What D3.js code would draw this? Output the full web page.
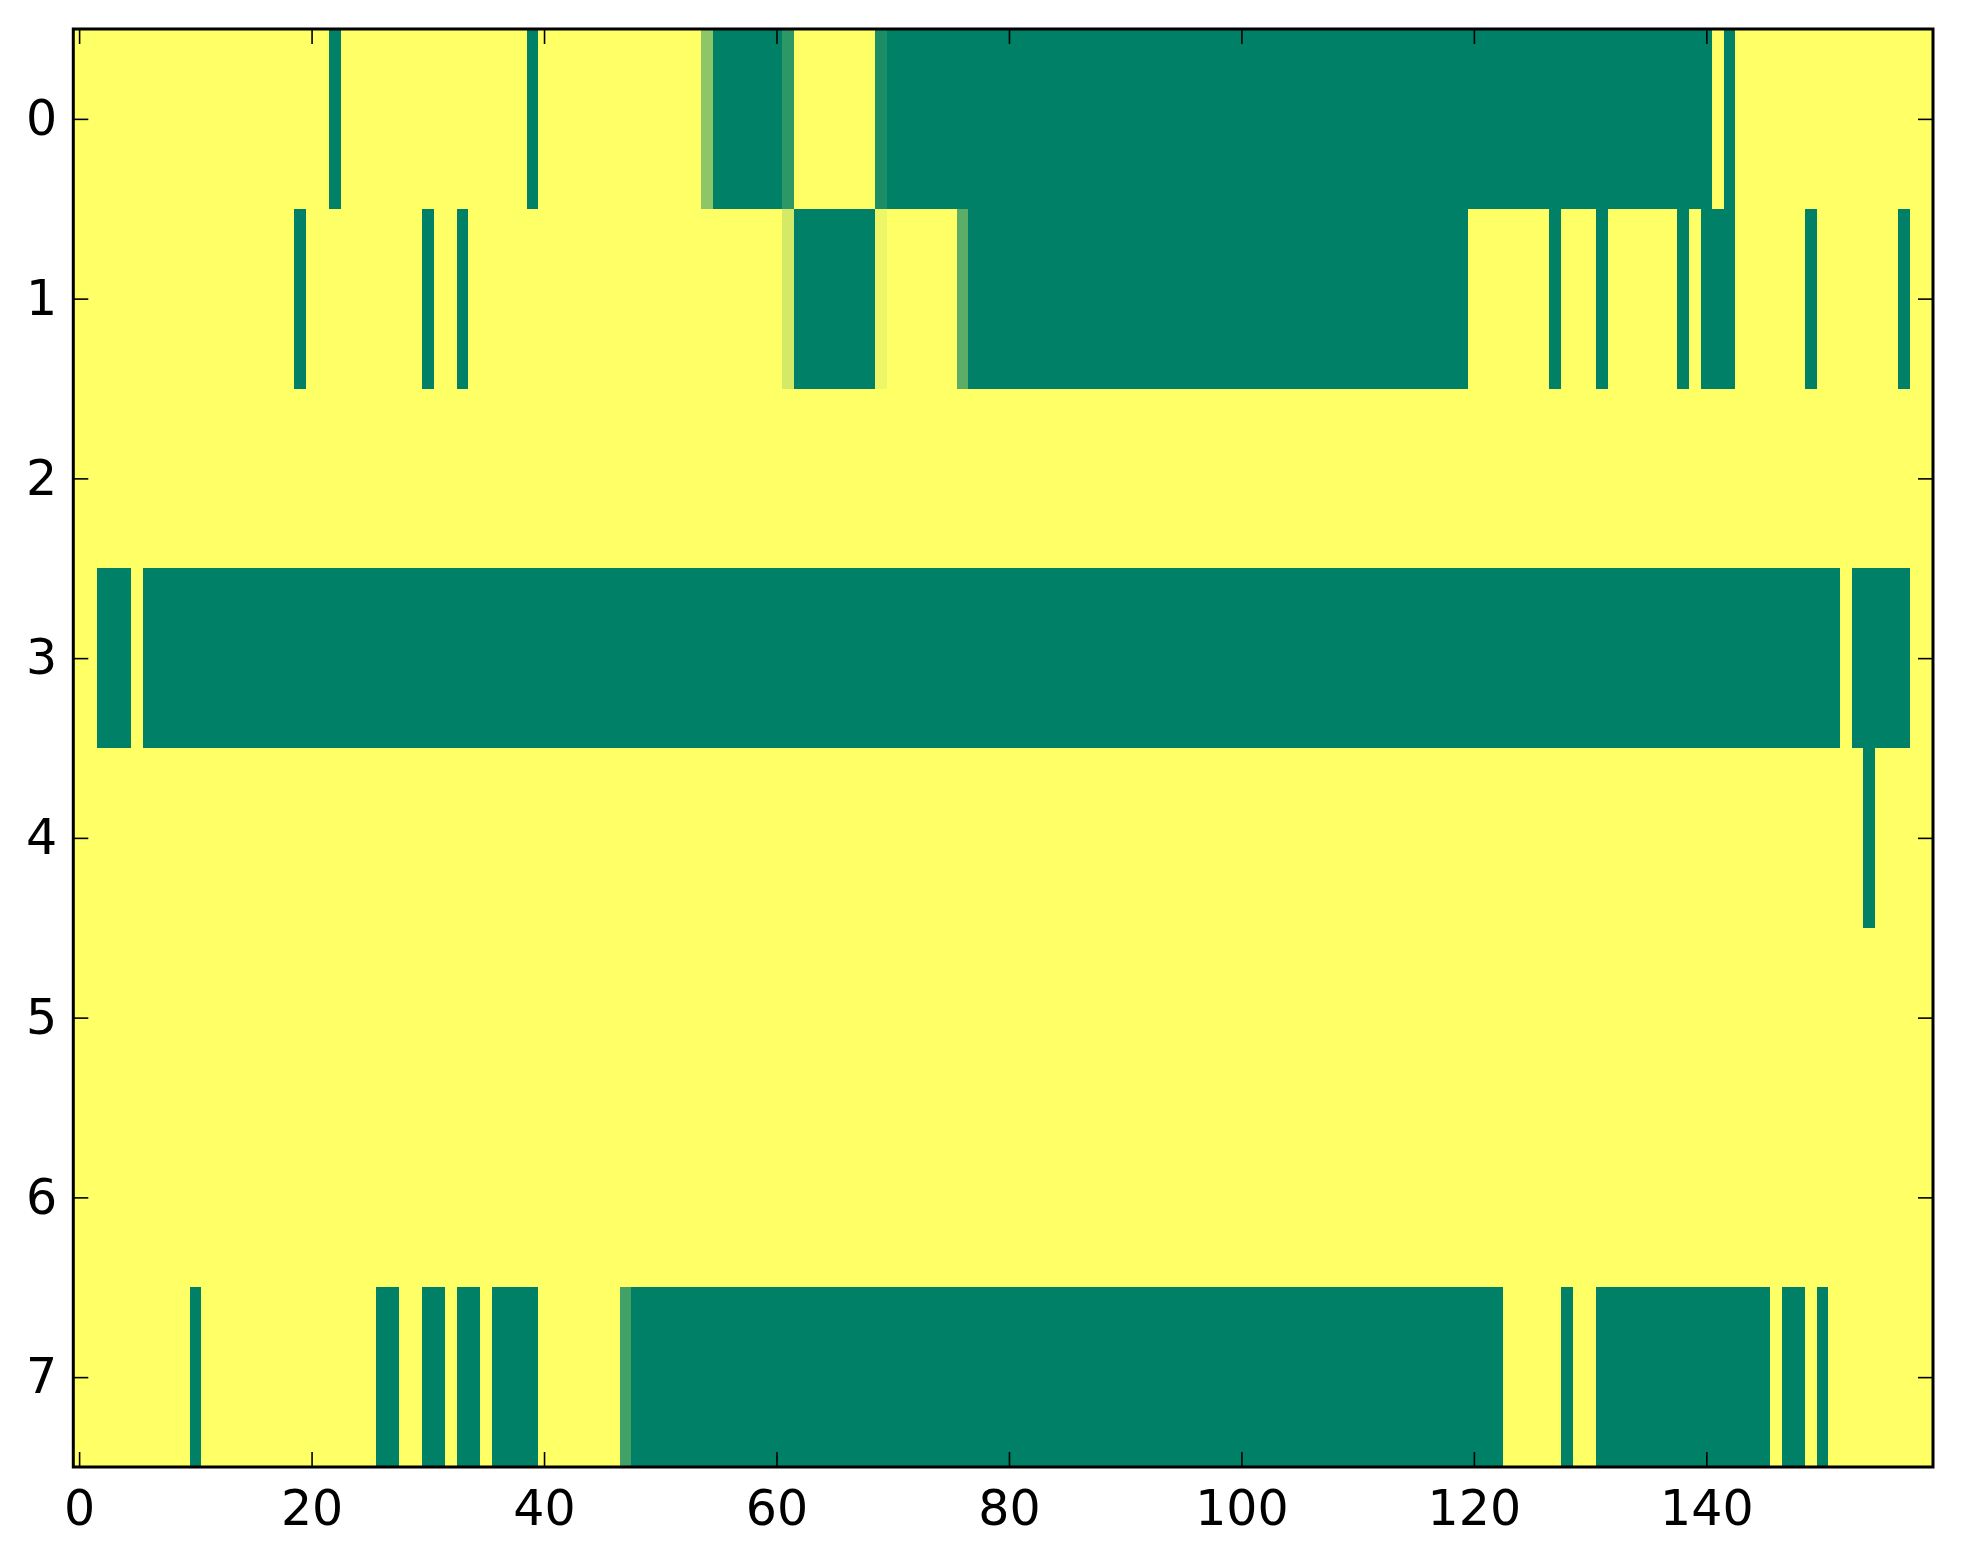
<!DOCTYPE html>
<html>
<head>
<meta charset="utf-8">
<script src="https://cdn.jsdelivr.net/npm/d3@7"></script>
<style>
  html, body { margin: 0; padding: 0; background: #ffffff; }
  svg { display: block; }
</style>
</head>
<body>
<svg id="chart" width="1963" height="1564"></svg>
<script>
// ---- data ----
const nCols = 160;
const rowIds = [0, 1, 2, 3, 4, 5, 6, 7];
const xTicks = [0, 20, 40, 60, 80, 100, 120, 140];
const yTicks = [0, 1, 2, 3, 4, 5, 6, 7];

// inclusive column ranges where the value is 0 (green); everything else is 1 (yellow)
const greenRuns0 = [[22, 22], [39, 39], [55, 60], [70, 140], [142, 142]];
const greenRuns1 = [[19, 19], [30, 30], [33, 33], [62, 68], [77, 119], [127, 127], [131, 131], [138, 138], [140, 142], [149, 149], [157, 157]];
const greenRuns2 = [];
const greenRuns3 = [[2, 4], [6, 151], [153, 157]];
const greenRuns4 = [[154, 154]];
const greenRuns5 = [];
const greenRuns6 = [];
const greenRuns7 = [[10, 10], [26, 27], [30, 31], [33, 34], [36, 39], [48, 122], [128, 128], [131, 145], [147, 148], [150, 150]];
const greenRuns = [greenRuns0, greenRuns1, greenRuns2, greenRuns3, greenRuns4, greenRuns5, greenRuns6, greenRuns7];

// cells with intermediate values [row, col, value]
const partialCells = [
  [0, 54, 0.55], [0, 61, 0.18], [0, 69, 0.11],
  [1, 61, 0.83], [1, 69, 0.93], [1, 76, 0.36],
  [7, 47, 0.26]
];

(function () {
  // ---- build grid ----
  const cells = [];
  rowIds.forEach(r => {
    const vals = new Array(nCols).fill(1);
    greenRuns[r].forEach(([a, b]) => { for (let c = a; c <= b; c++) vals[c] = 0; });
    partialCells.filter(p => p[0] === r).forEach(p => { vals[p[1]] = p[2]; });
    vals.forEach((v, c) => cells.push({ row: r, col: c, v }));
  });

  // ---- layout ----
  const pLeft = 73.3, pRight = 1933, pTop = 29, pBottom = 1467;
  const svg = d3.select("#chart");

  const x = d3.scaleLinear().domain([-0.5, nCols - 0.5]).range([pLeft, pRight]);
  const y = d3.scaleLinear().domain([-0.5, 7.5]).range([pTop, pBottom]);
  // matplotlib "summer" colormap
  const color = d3.scaleLinear().domain([0, 1])
    .range(["rgb(0,128,102)", "rgb(255,255,102)"]).interpolate(d3.interpolateRgb);

  svg.append("rect").attr("width", 1963).attr("height", 1564).attr("fill", "#ffffff");

  svg.append("g")
    .selectAll("rect")
    .data(cells)
    .join("rect")
    .attr("x", d => x(d.col - 0.5))
    .attr("y", d => y(d.row - 0.5))
    .attr("width", d => x(d.col + 0.5) - x(d.col - 0.5))
    .attr("height", d => y(d.row + 0.5) - y(d.row - 0.5))
    .attr("fill", d => color(d.v))
    .attr("shape-rendering", "crispEdges");

  const tickLen = 15;
  const fontFamily = "'DejaVu Sans', sans-serif";
  const fontSize = 49;

  function styleAxis(g) {
    g.select(".domain").remove();
    g.selectAll(".tick line").attr("stroke", "#000").attr("stroke-width", 1.6);
    g.selectAll(".tick text").attr("fill", "#000")
      .style("font-family", fontFamily).style("font-size", fontSize + "px");
  }

  svg.append("g")
    .attr("transform", `translate(0,${pBottom})`)
    .call(d3.axisBottom(x).tickValues(xTicks).tickSize(-tickLen).tickSizeOuter(0).tickPadding(23))
    .call(styleAxis);

  svg.append("g")
    .attr("transform", `translate(0,${pTop})`)
    .call(d3.axisTop(x).tickValues(xTicks).tickSize(-tickLen).tickSizeOuter(0).tickFormat(""))
    .call(styleAxis);

  svg.append("g")
    .attr("transform", `translate(${pLeft},0)`)
    .call(d3.axisLeft(y).tickValues(yTicks).tickSize(-tickLen).tickSizeOuter(0).tickPadding(16))
    .call(styleAxis);

  svg.append("g")
    .attr("transform", `translate(${pRight},0)`)
    .call(d3.axisRight(y).tickValues(yTicks).tickSize(-tickLen).tickSizeOuter(0).tickFormat(""))
    .call(styleAxis);

  svg.append("rect")
    .attr("x", pLeft).attr("y", pTop)
    .attr("width", pRight - pLeft).attr("height", pBottom - pTop)
    .attr("fill", "none").attr("stroke", "#000").attr("stroke-width", 3);
})();
</script>
</body>
</html>
